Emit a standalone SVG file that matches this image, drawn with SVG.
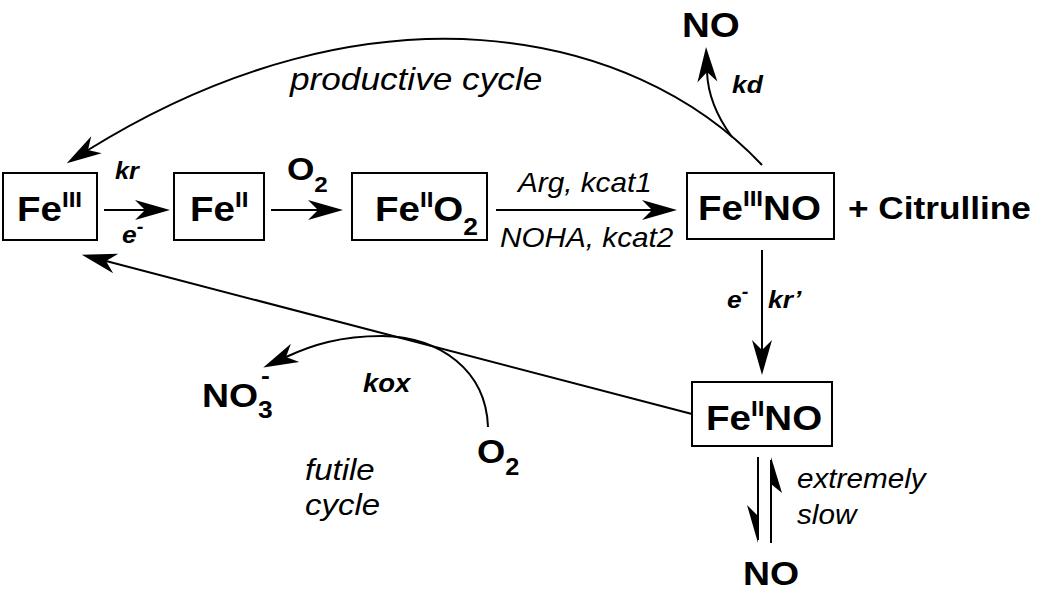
<svg xmlns="http://www.w3.org/2000/svg" width="1050" height="596" viewBox="0 0 1050 596">
<style>
.box{fill:none;stroke:#000;stroke-width:2}
.ln{fill:none;stroke:#000;stroke-width:2}
.b{font-family:"Liberation Sans",Arial,sans-serif;font-weight:bold;fill:#000}
.i{font-family:"Liberation Sans",Arial,sans-serif;font-style:italic;fill:#000}
.bi{font-family:"Liberation Sans",Arial,sans-serif;font-weight:bold;font-style:italic;fill:#000}
.n{font-size:35px}
</style>
<defs>
<marker id="ah" markerUnits="userSpaceOnUse" markerWidth="40" markerHeight="30" viewBox="-10 -15 40 30" refX="0" refY="0" orient="auto" overflow="visible">
<path d="M25,0 L-10,-10 L0,0 L-10,10 Z" fill="#000"/>
</marker>
</defs>
<g id="connectors">
<path class="ln" d="M104,210 H145" marker-end="url(#ah)"/>
<path class="ln" d="M271,210 H318" marker-end="url(#ah)"/>
<path class="ln" d="M496,210 H652" marker-end="url(#ah)"/>
<path class="ln" d="M762,250 V350" marker-end="url(#ah)"/>
<path class="ln" d="M762,165 C632,26 368,-24 88,150" marker-end="url(#ah)"/>
<path class="ln" d="M732,137 C718,118 708,98 707,72" marker-end="url(#ah)"/>
<path class="ln" d="M692,414 L106,261" marker-end="url(#ah)"/>
<path class="ln" d="M488,427 C486,370 440,337 382,336 C340,336 312,345 286,357" marker-end="url(#ah)"/>
<path class="ln" d="M758,457 V540"/>
<polygon points="758,543 747,505 758,516" fill="#000"/>
<path class="ln" d="M771,543 V460"/>
<polygon points="771,457 782,493 771,484" fill="#000"/>
</g>
<g id="FeIII">
<rect class="box" x="3" y="173" width="94" height="67"/>
<text class="b n" transform="translate(17,221) scale(1.1,1)">Fe<tspan font-size="22" dy="-14">III</tspan></text>
</g>
<g id="FeII">
<rect class="box" x="174" y="173" width="90" height="67"/>
<text class="b n" transform="translate(190,221) scale(1.1,1)">Fe<tspan font-size="22" dy="-14">II</tspan></text>
</g>
<g id="FeIIO2">
<rect class="box" x="352" y="173" width="135" height="67"/>
<text class="b n" transform="translate(375,221) scale(1.1,1)">Fe<tspan font-size="22" dy="-14">II</tspan><tspan dy="14">O</tspan><tspan font-size="24" dy="14">2</tspan></text>
</g>
<g id="FeIIINO">
<rect class="box" x="687" y="173" width="147" height="66"/>
<text class="b n" transform="translate(698,220) scale(1.1,1)">Fe<tspan font-size="22" dy="-14">III</tspan><tspan dy="14">NO</tspan></text>
</g>
<g id="FeIINO">
<rect class="box" x="692" y="382" width="140" height="64"/>
<text class="b n" transform="translate(706,430) scale(1.1,1)">Fe<tspan font-size="22" dy="-14">II</tspan><tspan dy="14">NO</tspan></text>
</g>
<g id="labels">
<text class="b" font-size="32" transform="translate(848,219) scale(1.1,1)">+ Citrulline</text>
<text class="b" font-size="35" transform="translate(682,37) scale(1.1,1)">NO</text>
<text class="bi" font-size="24" transform="translate(732,93) scale(1.1,1)">kd</text>
<text class="i" font-size="32" transform="translate(290,90) scale(1.1,1)">productive cycle</text>
<text class="bi" font-size="23" transform="translate(115,179) scale(1.1,1)">kr</text>
<text class="bi" font-size="24" transform="translate(122,243) scale(1.1,1)">e<tspan font-size="18" dy="-10">-</tspan></text>
<text class="b" font-size="32" transform="translate(287,180) scale(1.1,1)">O<tspan font-size="22" dy="12">2</tspan></text>
<text class="i" font-size="27" transform="translate(518,192) scale(1.1,1)">Arg, kcat1</text>
<text class="i" font-size="27" transform="translate(500,247) scale(1.1,1)">NOHA, kcat2</text>
<text class="bi" font-size="24" transform="translate(727,308) scale(1.1,1)">e<tspan font-size="18" dy="-10">-</tspan></text>
<text class="bi" font-size="24" transform="translate(768,308) scale(1.1,1)">kr’</text>
<text class="bi" font-size="25" transform="translate(363,392) scale(1.1,1)">kox</text>
<text class="b" font-size="34" transform="translate(202,407) scale(1.1,1)">NO<tspan font-size="24" dy="11">3</tspan><tspan font-size="24" dx="-10.6" dy="-34">-</tspan></text>
<text class="b" font-size="33" transform="translate(477,463) scale(1.1,1)">O<tspan font-size="23" dy="12">2</tspan></text>
<text class="i" font-size="30" transform="translate(305,480) scale(1.1,1)">futile</text>
<text class="i" font-size="30" transform="translate(305,515) scale(1.1,1)">cycle</text>
<text class="i" font-size="27" transform="translate(797,488) scale(1.1,1)">extremely</text>
<text class="i" font-size="27" transform="translate(797,524) scale(1.1,1)">slow</text>
<text class="b" font-size="34" transform="translate(743,585) scale(1.1,1)">NO</text>
</g>
</svg>
